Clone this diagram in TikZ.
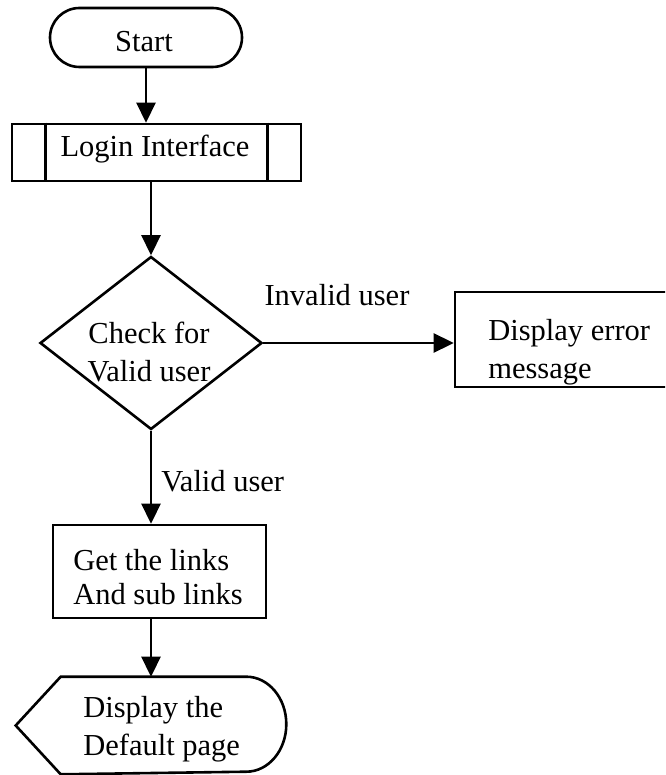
\documentclass[tikz,border=0pt]{standalone}
\usepackage{fontspec}
\setmainfont{Liberation Serif}
\usetikzlibrary{arrows.meta,shapes.geometric,calc}

\begin{document}
\begin{tikzpicture}[x=1pt,y=-1pt,
  line width=2.6pt,
  every node/.style={font=\fontsize{30.5}{38}\selectfont},
  flow/.style={-{Triangle[length=20pt,width=19pt]}},
  box/.style={draw, rectangle, inner sep=0pt},
  lbl/.style={inner sep=0pt, align=left},
]
\useasboundingbox (0,0) rectangle (665,775);
\clip (0,0) rectangle (665,775);

% start terminator
\node[box, rounded corners=29.5pt, minimum width=192pt, minimum height=59pt] (start) at (146,37.5) {};
\node[lbl, anchor=base] (startText) at (144,52) {Start};

% predefined process: login
\node[box, minimum width=289pt, minimum height=57pt] (login) at (156.5,152.5) {};
\draw ($(login.north west)+(35,0)$) -- ($(login.south west)+(35,0)$);
\draw ($(login.north east)+(-35,0)$) -- ($(login.south east)+(-35,0)$);
\node[lbl, anchor=base] (loginText) at (155,157) {Login Interface};

% decision
\node[draw, diamond, inner sep=0pt, minimum width=222pt, minimum height=173pt] (check) at (151,343) {};
\node[lbl, align=center, anchor=base] (checkText) at (149,381) {Check for\\Valid user};

% error message box (runs past the right edge)
\node[box, minimum width=245pt, minimum height=95pt] (error) at (577.5,339.5) {};
\node[lbl, anchor=base west] (errorText) at (487,378) {Display error\\message};

% links box
\node[box, minimum width=213pt, minimum height=93pt] (links) at (159.5,571.5) {};
\node[lbl, anchor=base west, font=\fontsize{30.5}{34}\selectfont] (linksText) at (72,604) {Get the links\\And sub links};

% display shape
\node[minimum width=268pt, minimum height=95pt, inner sep=0pt] (display) at (151,725.5) {};
\draw (display.west) -- ($(display.north west)+(45,0)$)
  -- ($(display.north east)+(-40,0)$)
  arc[start angle=-90, end angle=90, x radius=40, y radius=47.5]
  -- ($(display.south west)+(45,0)$) -- cycle;
\node[lbl, anchor=base west] (displayText) at (82,755) {Display the\\Default page};

% connectors
\draw[flow] (start.south) -- (start.south |- login.north);
\draw[flow] (login.south -| check.north) -- (check.north);
\draw[flow] (check.east) -- (check.east -| error.west);
\draw[flow] (check.south) -- (check.south |- links.north);
\draw[flow] (links.south -| display.north) -- (display.north);

% connector labels
\node[lbl, anchor=base] (invalidLabel) at (337,305) {Invalid user};
\node[lbl, anchor=base west] (validLabel) at (160,491) {Valid user};
\end{tikzpicture}
\end{document}
